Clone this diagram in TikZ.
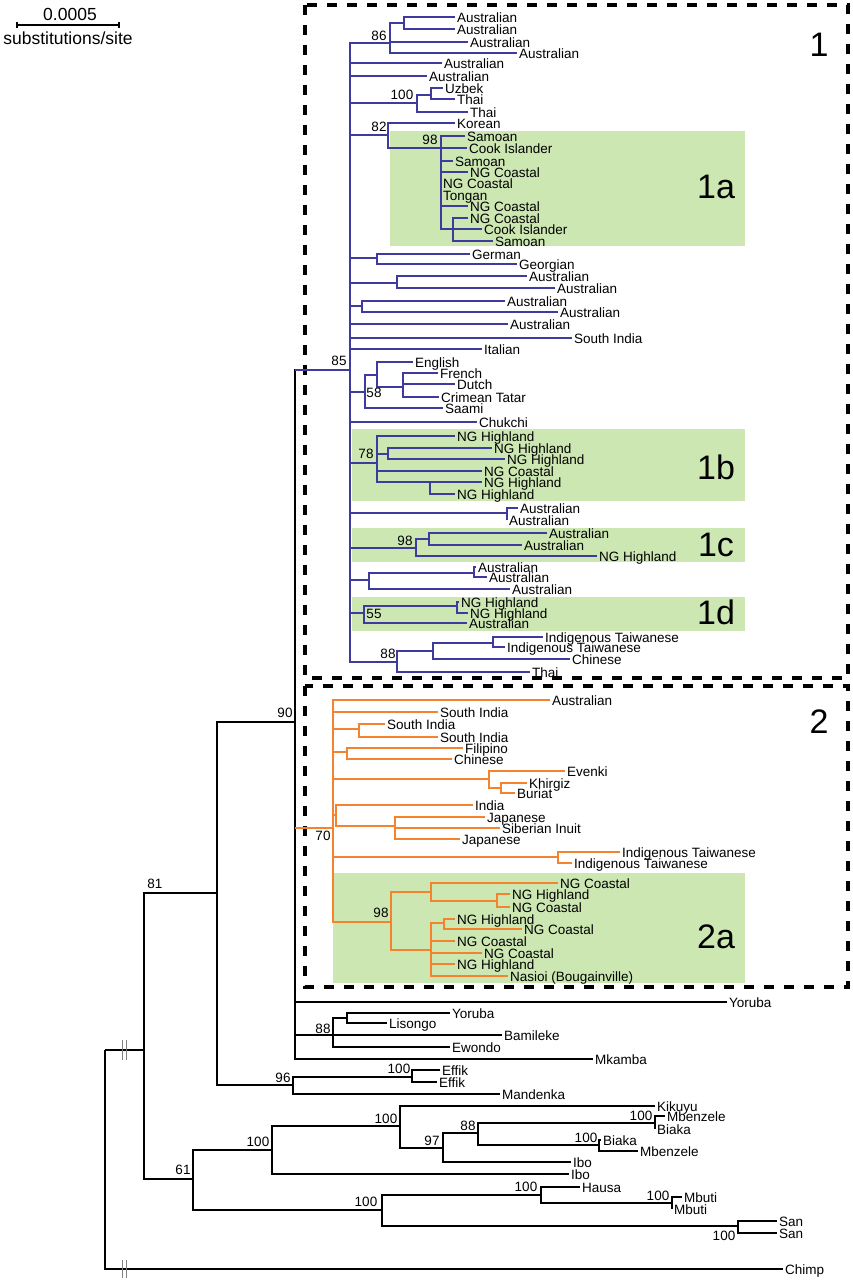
\documentclass[tikz,border=0pt]{standalone}
\usepackage{fontspec}
\setmainfont{Liberation Sans}
\definecolor{cladeblue}{RGB}{62,58,158}
\definecolor{cladeorange}{RGB}{245,130,45}
\definecolor{cladegreen}{RGB}{205,231,178}

\begin{document}
\begin{tikzpicture}[x=1pt,y=-1pt,
    lbl/.style={anchor=west,inner xsep=2pt,inner ysep=0pt,text height=11pt,text depth=0pt,font=\fontsize{13.5}{14}\selectfont},
    boot/.style={inner sep=0pt,font=\fontsize{13.5}{14}\selectfont},
    cladelbl/.style={inner sep=0pt,font=\fontsize{34}{36}\selectfont},
    blackb/.style={line width=1.6pt,draw=black},
    blueb/.style={line width=1.6pt,draw=cladeblue},
    orangeb/.style={line width=1.6pt,draw=cladeorange},
    dashbox/.style={line width=3.5pt,dash pattern=on 10pt off 10pt}]

    \fill[white] (0,0) rectangle (853,1280);

    % scale bar
    \coordinate (sbl) at (17,25);
    \coordinate (sbr) at (119,25);
    \draw[line width=1.2pt] (sbl) -- (sbr);
    \draw[line width=1.2pt] ([yshift=3pt]sbl) -- ([yshift=-3pt]sbl);
    \draw[line width=1.2pt] ([yshift=3pt]sbr) -- ([yshift=-3pt]sbr);
    \node[inner sep=0pt,font=\fontsize{17.5}{18}\selectfont] (sbnum) at (70,14) {0.0005};
    \node[inner sep=0pt,font=\fontsize{17.5}{18}\selectfont] (sbunit) at (68,38) {substitutions/site};

    \fill[cladegreen] (390,131) rectangle (745,246);
    \fill[cladegreen] (352,429) rectangle (745,501);
    \fill[cladegreen] (352,528) rectangle (745,562);
    \fill[cladegreen] (352,597) rectangle (745,631);
    \fill[cladegreen] (333,873) rectangle (745,983);

    \draw[dashbox] (305,5) rectangle (848,678);
    \draw[dashbox] (305,686) rectangle (848,987);

    \node[cladelbl] (k1) at (819,45) {1};
    \node[cladelbl] (k1a) at (716,187) {1a};
    \node[cladelbl] (k1b) at (716,467) {1b};
    \node[cladelbl] (k1c) at (716,545) {1c};
    \node[cladelbl] (k1d) at (716,612) {1d};
    \node[cladelbl] (k2) at (819,722) {2};
    \node[cladelbl] (k2a) at (716,937) {2a};

    % clade 1
    \coordinate (c1) at (350,370);
    \coordinate (n86) at (390,43);
    \coordinate (n86a) at (404,23);
    \node[lbl] (au1) at (455,17) {Australian};
    \node[lbl] (au2) at (455,29) {Australian};
    \node[lbl] (au3) at (468,42) {Australian};
    \node[lbl] (au4) at (517,53) {Australian};
    \node[lbl] (au5) at (442,63) {Australian};
    \node[lbl] (au6) at (427,76) {Australian};
    \coordinate (n100u) at (417,103);
    \coordinate (nut) at (431,95);
    \node[lbl] (uzb) at (443,88) {Uzbek};
    \node[lbl] (tha1) at (455,99) {Thai};
    \node[lbl] (tha2) at (468,112) {Thai};
    \coordinate (n82) at (388,135);
    \node[lbl] (kor) at (455,123) {Korean};
    \coordinate (n98a) at (441,148);
    \node[lbl] (sam1) at (465,136) {Samoan};
    \node[lbl] (coo1) at (467,148) {Cook Islander};
    \node[lbl] (sam2) at (453,161) {Samoan};
    \node[lbl] (ngc1) at (468,172) {NG Coastal};
    \node[lbl] (ngc2) at (441,183) {NG Coastal};
    \node[lbl] (ton) at (441,195) {Tongan};
    \node[lbl] (ngc3) at (468,206) {NG Coastal};
    \coordinate (ncs) at (453,229);
    \node[lbl] (ngc4) at (468,218) {NG Coastal};
    \node[lbl] (coo2) at (482,229) {Cook Islander};
    \node[lbl] (sam3) at (493,241) {Samoan};
    \coordinate (ngg) at (377,258);
    \node[lbl] (ger) at (470,254) {German};
    \node[lbl] (geo) at (517,264) {Georgian};
    \coordinate (naa1) at (397,283);
    \node[lbl] (au7) at (527,276) {Australian};
    \node[lbl] (au8) at (555,288) {Australian};
    \coordinate (naa2) at (362,306);
    \node[lbl] (au9) at (505,301) {Australian};
    \node[lbl] (au10) at (558,312) {Australian};
    \node[lbl] (au11) at (508,324) {Australian};
    \node[lbl] (sin1) at (572,338) {South India};
    \node[lbl] (itl) at (482,349) {Italian};
    \coordinate (n58) at (365,392);
    \coordinate (nen) at (377,375);
    \node[lbl] (eng) at (413,362) {English};
    \coordinate (nfr) at (403,387);
    \node[lbl] (fre) at (438,373) {French};
    \node[lbl] (dut) at (455,384) {Dutch};
    \node[lbl] (cri) at (439,397) {Crimean Tatar};
    \node[lbl] (saa) at (443,408) {Saami};
    \node[lbl] (chu) at (477,422) {Chukchi};
    \coordinate (n78) at (377,463);
    \node[lbl] (ngh1) at (455,436) {NG Highland};
    \coordinate (nhh) at (388,454);
    \node[lbl] (ngh2) at (492,448) {NG Highland};
    \node[lbl] (ngh3) at (505,459) {NG Highland};
    \node[lbl] (ngc5) at (482,471) {NG Coastal};
    \coordinate (nhh2) at (430,482);
    \node[lbl] (ngh4) at (482,482) {NG Highland};
    \node[lbl] (ngh5) at (455,494) {NG Highland};
    \coordinate (nau) at (507,513);
    \node[lbl] (au12) at (518,508) {Australian};
    \node[lbl] (au13) at (507,520) {Australian};
    \coordinate (n98c) at (416,548);
    \coordinate (nau2) at (429,539);
    \node[lbl] (au14) at (547,533) {Australian};
    \node[lbl] (au15) at (522,545) {Australian};
    \node[lbl] (ngh6) at (597,556) {NG Highland};
    \coordinate (nau3) at (369,580);
    \coordinate (nau4) at (474,573);
    \node[lbl] (au16) at (476,567) {Australian};
    \node[lbl] (au17) at (487,577) {Australian};
    \node[lbl] (au18) at (510,589) {Australian};
    \coordinate (n55) at (364,613);
    \coordinate (nnh) at (457,606);
    \node[lbl] (ngh7) at (459,602) {NG Highland};
    \node[lbl] (ngh8) at (468,613) {NG Highland};
    \node[lbl] (au19) at (467,623) {Australian};
    \coordinate (n88t) at (397,662);
    \coordinate (nit) at (433,651);
    \coordinate (nit2) at (493,643);
    \node[lbl] (itw1) at (543,637) {Indigenous Taiwanese};
    \node[lbl] (itw2) at (505,647) {Indigenous Taiwanese};
    \node[lbl] (chi1) at (570,659) {Chinese};
    \node[lbl] (tha3) at (530,672) {Thai};

    \draw[blueb] (c1) |- (n86) (c1) |- (au5) (c1) |- (au6) (c1) |- (n100u) (c1) |- (n82)
        (c1) |- (ngg) (c1) |- (naa1) (c1) |- (naa2) (c1) |- (au11) (c1) |- (sin1) (c1) |- (itl)
        (c1) |- (n58) (c1) |- (chu) (c1) |- (n78) (c1) |- (nau) (c1) |- (n98c) (c1) |- (nau3)
        (c1) |- (n55) (c1) |- (n88t);
    \draw[blueb] (n86) |- (n86a) (n86) |- (au3) (n86) |- (au4);
    \draw[blueb] (n86a) |- (au1) (n86a) |- (au2);
    \draw[blueb] (n100u) |- (nut) (n100u) |- (tha2);
    \draw[blueb] (nut) |- (uzb) (nut) |- (tha1);
    \draw[blueb] (n82) |- (kor) (n82) |- (n98a);
    \draw[blueb] (n98a) |- (sam1) (n98a) |- (coo1) (n98a) |- (sam2) (n98a) |- (ngc1)
        (n98a) |- (ngc2) (n98a) |- (ton) (n98a) |- (ngc3) (n98a) |- (ncs);
    \draw[blueb] (ncs) |- (ngc4) (ncs) |- (coo2) (ncs) |- (sam3);
    \draw[blueb] (ngg) |- (ger) (ngg) |- (geo);
    \draw[blueb] (naa1) |- (au7) (naa1) |- (au8);
    \draw[blueb] (naa2) |- (au9) (naa2) |- (au10);
    \draw[blueb] (n58) |- (nen) (n58) |- (saa);
    \draw[blueb] (nen) |- (eng) (nen) |- (nfr);
    \draw[blueb] (nfr) |- (fre) (nfr) |- (dut) (nfr) |- (cri);
    \draw[blueb] (n78) |- (ngh1) (n78) |- (nhh) (n78) |- (ngc5) (n78) |- (nhh2);
    \draw[blueb] (nhh) |- (ngh2) (nhh) |- (ngh3);
    \draw[blueb] (nhh2) |- (ngh4) (nhh2) |- (ngh5);
    \draw[blueb] (nau) |- (au12) (nau) |- (au13);
    \draw[blueb] (n98c) |- (nau2) (n98c) |- (ngh6);
    \draw[blueb] (nau2) |- (au14) (nau2) |- (au15);
    \draw[blueb] (nau3) |- (nau4) (nau3) |- (au18);
    \draw[blueb] (nau4) |- (au16) (nau4) |- (au17);
    \draw[blueb] (n55) |- (nnh) (n55) |- (au19);
    \draw[blueb] (nnh) |- (ngh7) (nnh) |- (ngh8);
    \draw[blueb] (n88t) |- (nit) (n88t) |- (tha3);
    \draw[blueb] (nit) |- (nit2) (nit) |- (chi1);
    \draw[blueb] (nit2) |- (itw1) (nit2) |- (itw2);

    \node[boot] (b85) at (339,361) {85};
    \node[boot] (b86) at (379,36) {86};
    \node[boot] (b100u) at (402,95) {100};
    \node[boot] (b82) at (379,127) {82};
    \node[boot] (b98a) at (430,140) {98};
    \node[boot] (b58) at (374,393) {58};
    \node[boot] (b78) at (366,454) {78};
    \node[boot] (b98c) at (405,541) {98};
    \node[boot] (b55) at (374,614) {55};
    \node[boot] (b88t) at (388,654) {88};

    % clade 2
    \coordinate (c2) at (333,828);
    \node[lbl] (au20) at (550,700) {Australian};
    \node[lbl] (sin2) at (438,712) {South India};
    \coordinate (nsi) at (359,729);
    \node[lbl] (sin3) at (385,724) {South India};
    \node[lbl] (sin4) at (438,737) {South India};
    \coordinate (nfc) at (347,752);
    \node[lbl] (fil) at (463,748) {Filipino};
    \node[lbl] (chi2) at (452,759) {Chinese};
    \coordinate (nev) at (489,779);
    \node[lbl] (eve) at (565,771) {Evenki};
    \coordinate (nkb) at (501,788);
    \node[lbl] (khi) at (527,783) {Khirgiz};
    \node[lbl] (bur) at (515,793) {Buriat};
    \coordinate (nij) at (336,815);
    \node[lbl] (ind) at (473,805) {India};
    \coordinate (njs) at (395,826);
    \node[lbl] (jap1) at (485,817) {Japanese};
    \node[lbl] (sib) at (500,828) {Siberian Inuit};
    \node[lbl] (jap2) at (460,839) {Japanese};
    \coordinate (nit3) at (558,857);
    \node[lbl] (itw3) at (620,852) {Indigenous Taiwanese};
    \node[lbl] (itw4) at (572,863) {Indigenous Taiwanese};
    \coordinate (n98o) at (391,922);
    \coordinate (nng1) at (431,892);
    \node[lbl] (ngc6) at (558,883) {NG Coastal};
    \coordinate (nng3) at (497,901);
    \node[lbl] (ngh9) at (510,894) {NG Highland};
    \node[lbl] (ngc7) at (510,907) {NG Coastal};
    \coordinate (nng2) at (431,950);
    \coordinate (nng4) at (444,923);
    \node[lbl] (ngh10) at (455,919) {NG Highland};
    \node[lbl] (ngc8) at (522,929) {NG Coastal};
    \node[lbl] (ngc9) at (455,941) {NG Coastal};
    \node[lbl] (ngc10) at (482,953) {NG Coastal};
    \node[lbl] (ngh11) at (455,964) {NG Highland};
    \node[lbl] (nas) at (508,976) {Nasioi (Bougainville)};

    \draw[orangeb] (c2) |- (au20) (c2) |- (sin2) (c2) |- (nsi) (c2) |- (nfc) (c2) |- (nev)
        (c2) |- (nij) (c2) |- (nit3) (c2) |- (n98o);
    \draw[orangeb] (nsi) |- (sin3) (nsi) |- (sin4);
    \draw[orangeb] (nfc) |- (fil) (nfc) |- (chi2);
    \draw[orangeb] (nev) |- (eve) (nev) |- (nkb);
    \draw[orangeb] (nkb) |- (khi) (nkb) |- (bur);
    \draw[orangeb] (nij) |- (ind) (nij) |- (njs);
    \draw[orangeb] (njs) |- (jap1) (njs) |- (sib) (njs) |- (jap2);
    \draw[orangeb] (nit3) |- (itw3) (nit3) |- (itw4);
    \draw[orangeb] (n98o) |- (nng1) (n98o) |- (nng2);
    \draw[orangeb] (nng1) |- (ngc6) (nng1) |- (nng3);
    \draw[orangeb] (nng3) |- (ngh9) (nng3) |- (ngc7);
    \draw[orangeb] (nng2) |- (nng4) (nng2) |- (ngc9) (nng2) |- (ngc10) (nng2) |- (ngh11) (nng2) |- (nas);
    \draw[orangeb] (nng4) |- (ngh10) (nng4) |- (ngc8);

    \node[boot] (b70) at (323,836) {70};
    \node[boot] (b98o) at (381,913) {98};

    % outgroups
    \coordinate (root) at (105,1050);
    \coordinate (na) at (144,1050);
    \coordinate (n81) at (217,893);
    \coordinate (n90) at (295,722);
    \coordinate (n96) at (293,1085);
    \coordinate (n61) at (193,1179);
    \node[lbl] (yor1) at (727,1002) {Yoruba};
    \coordinate (n88y) at (333,1035);
    \coordinate (nyl) at (347,1018);
    \node[lbl] (yor2) at (450,1013) {Yoruba};
    \node[lbl] (lis) at (387,1023) {Lisongo};
    \node[lbl] (bam) at (502,1035) {Bamileke};
    \node[lbl] (ewo) at (450,1047) {Ewondo};
    \node[lbl] (mka) at (593,1059) {Mkamba};
    \coordinate (nef) at (412,1077);
    \node[lbl] (eff1) at (440,1070) {Effik};
    \node[lbl] (eff2) at (437,1082) {Effik};
    \node[lbl] (man) at (500,1094) {Mandenka};
    \coordinate (n100a) at (272,1150);
    \coordinate (n100k) at (400,1126);
    \node[lbl] (kik) at (655,1106) {Kikuyu};
    \coordinate (n97) at (443,1148);
    \coordinate (n88b) at (478,1133);
    \coordinate (nmb1) at (655,1123);
    \node[lbl] (mbe1) at (665,1116) {Mbenzele};
    \node[lbl] (bia1) at (655,1129) {Biaka};
    \coordinate (nmb2) at (599,1145);
    \node[lbl] (bia2) at (601,1140) {Biaka};
    \node[lbl] (mbe2) at (638,1151) {Mbenzele};
    \node[lbl] (ibo1) at (571,1162) {Ibo};
    \node[lbl] (ibo2) at (569,1174) {Ibo};
    \coordinate (n100h) at (382,1210);
    \coordinate (nha) at (541,1195);
    \node[lbl] (hau) at (580,1187) {Hausa};
    \coordinate (nmb) at (672,1203);
    \node[lbl] (mbu1) at (682,1197) {Mbuti};
    \node[lbl] (mbu2) at (672,1209) {Mbuti};
    \coordinate (nsan) at (738,1226);
    \node[lbl] (san1) at (777,1221) {San};
    \node[lbl] (san2) at (777,1233) {San};
    \node[lbl] (chimp) at (783,1269) {Chimp};

    \draw[blackb] (root) |- (na) (root) |- (chimp);
    \draw[blackb] (na) |- (n81) (na) |- (n61);
    \draw[blackb] (n81) |- (n90) (n81) |- (n96);
    \draw[blackb] (n90) |- (c1) (n90) |- (c2) (n90) |- (yor1) (n90) |- (n88y) (n90) |- (mka);
    \draw[blueb] (n90 |- c1) -- (c1);
    \draw[orangeb] (n90 |- c2) -- (c2);
    \draw[blackb] (n88y) |- (nyl) (n88y) |- (bam) (n88y) |- (ewo);
    \draw[blackb] (nyl) |- (yor2) (nyl) |- (lis);
    \draw[blackb] (n96) |- (nef) (n96) |- (man);
    \draw[blackb] (nef) |- (eff1) (nef) |- (eff2);
    \draw[blackb] (n61) |- (n100a) (n61) |- (n100h);
    \draw[blackb] (n100a) |- (n100k) (n100a) |- (ibo2);
    \draw[blackb] (n100k) |- (kik) (n100k) |- (n97);
    \draw[blackb] (n97) |- (n88b) (n97) |- (ibo1);
    \draw[blackb] (n88b) |- (nmb1) (n88b) |- (nmb2);
    \draw[blackb] (nmb1) |- (mbe1) (nmb1) |- (bia1);
    \draw[blackb] (nmb2) |- (bia2) (nmb2) |- (mbe2);
    \draw[blackb] (n100h) |- (nha) (n100h) |- (nsan);
    \draw[blackb] (nha) |- (hau) (nha) |- (nmb);
    \draw[blackb] (nmb) |- (mbu1) (nmb) |- (mbu2);
    \draw[blackb] (nsan) |- (san1) (nsan) |- (san2);

    % breaks
    \draw[line width=0.8pt,gray] (122,1040) -- (122,1060) (126,1040) -- (126,1060);
    \draw[line width=0.8pt,gray] (122,1260) -- (122,1278) (126,1260) -- (126,1278);

    \node[boot] (b90) at (285,713) {90};
    \node[boot] (b81) at (155,884) {81};
    \node[boot] (b61) at (183,1170) {61};
    \node[boot] (b100a) at (258,1142) {100};
    \node[boot] (b100k) at (386,1119) {100};
    \node[boot] (b97) at (432,1141) {97};
    \node[boot] (b88b) at (468,1126) {88};
    \node[boot] (b100m1) at (641,1116) {100};
    \node[boot] (b100m2) at (586,1138) {100};
    \node[boot] (b100h) at (366,1202) {100};
    \node[boot] (b100ha) at (526,1187) {100};
    \node[boot] (b100mb) at (658,1196) {100};
    \node[boot] (b100s) at (724,1236) {100};
    \node[boot] (b96) at (283,1078) {96};
    \node[boot] (b100e) at (399,1069) {100};
    \node[boot] (b88y) at (323,1029) {88};
\end{tikzpicture}
\end{document}
